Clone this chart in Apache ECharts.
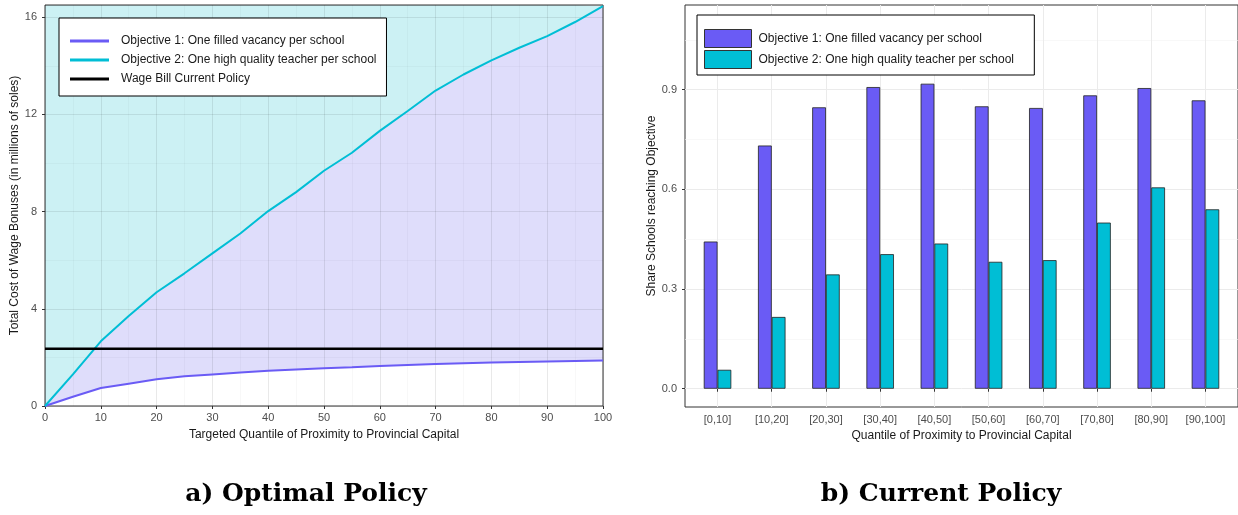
<!DOCTYPE html>
<html><head><meta charset="utf-8">
<script src="https://cdn.jsdelivr.net/npm/echarts@6/dist/echarts.min.js"></script>
<style>html,body{margin:0;padding:0;background:#fff}#c{width:1238px;height:515px}</style>
</head><body><div id="c"></div>
<script>
// ---- Panel a) Optimal Policy ----
const quantiles = [0,5,10,15,20,25,30,35,40,45,50,55,60,65,70,75,80,85,90,95,100];
const obj1Cost = [0,0.38,0.74,0.92,1.1,1.22,1.3,1.38,1.45,1.5,1.55,1.59,1.65,1.69,1.73,1.76,1.79,1.81,1.83,1.85,1.87];
const obj2Cost = [0,1.3,2.66,3.7,4.68,5.46,6.28,7.1,8.02,8.8,9.68,10.42,11.32,12.14,12.98,13.64,14.22,14.74,15.22,15.8,16.45];
const wageBill = 2.36;
const costMax = 16.5;

// ---- Panel b) Current Policy ----
const bins = ['[0,10]','[10,20]','[20,30]','[30,40]','[40,50]','[50,60]','[60,70]','[70,80]','[80,90]','[90,100]'];
const obj1Share = [0.443,0.732,0.847,0.908,0.918,0.850,0.845,0.883,0.905,0.868];
const obj2Share = [0.057,0.216,0.344,0.405,0.437,0.382,0.387,0.500,0.606,0.540];
const shareMajor = [0,0.3,0.6,0.9];
const shareMinor = [0.15,0.45,0.75,1.05];

const name1 = 'Objective 1: One filled vacancy per school';
const name2 = 'Objective 2: One high quality teacher per school';
const name3 = 'Wage Bill Current Policy';

const PURPLE = '#6A5BF5', CYAN = '#00BED5';
const SANS = '"Liberation Sans", Arial, sans-serif';
const tickLbl = {color:'#4D4D4D', fontSize:11, fontFamily:SANS};
const nameTs = {color:'#1A1A1A', fontSize:12, fontFamily:SANS};
const GRIDMAJ = 'rgba(0,0,0,0.085)', GRIDMIN = 'rgba(0,0,0,0.045)';

const chart = echarts.init(document.getElementById('c'), null, {renderer:'canvas'});
const pairs = arr => quantiles.map((q,i)=>[q, arr[i]]);
const binPos = bins.map((b,i)=>i+1);

chart.setOption({
  animation:false,
  backgroundColor:'#fff',
  grid:[
    {left:45, top:5, width:558, height:401, show:true, borderColor:'#333', borderWidth:1, z:1},
    {left:685, top:5, width:561, height:402, show:true, borderColor:'#333', borderWidth:1}
  ],
  xAxis:[
    {gridIndex:0, type:'value', min:0, max:100, interval:10, z:1,
     name:'Targeted Quantile of Proximity to Provincial Capital', nameLocation:'middle', nameGap:23, nameTextStyle:nameTs,
     axisLine:{show:false}, axisTick:{show:true, length:3, lineStyle:{color:'#333'}},
     axisLabel:Object.assign({margin:6}, tickLbl),
     splitLine:{show:true, lineStyle:{color:GRIDMAJ, width:1}},
     minorTick:{show:false, splitNumber:2}, minorSplitLine:{show:true, lineStyle:{color:GRIDMIN, width:0.7}}},
    {gridIndex:1, type:'value', min:0.4, max:10.6,
     name:'Quantile of Proximity to Provincial Capital', nameLocation:'middle', nameGap:23, nameTextStyle:nameTs,
     axisLine:{show:false},
     axisTick:{show:true, length:3, lineStyle:{color:'#333'}, customValues:binPos},
     axisLabel:Object.assign({margin:7, customValues:binPos, formatter:v=>bins[Math.round(v)-1]}, tickLbl),
     splitLine:{show:true, lineStyle:{color:'#EBEBEB', width:1}}}
  ],
  yAxis:[
    {gridIndex:0, type:'value', min:0, max:costMax, interval:4, z:1,
     name:'Total Cost of Wage Bonuses (in millions of soles)', nameLocation:'middle', nameGap:18, nameTextStyle:nameTs,
     axisLine:{show:false}, axisTick:{show:true, length:3, lineStyle:{color:'#333'}},
     axisLabel:Object.assign({margin:8, showMaxLabel:false}, tickLbl),
     splitLine:{show:true, lineStyle:{color:GRIDMAJ, width:1}},
     minorTick:{show:false, splitNumber:2}, minorSplitLine:{show:true, lineStyle:{color:GRIDMIN, width:0.7}}},
    {gridIndex:1, type:'value', min:-0.055, max:1.155,
     name:'Share Schools reaching Objective', nameLocation:'middle', nameGap:24, nameTextStyle:nameTs,
     axisLine:{show:false},
     axisTick:{show:true, length:3, lineStyle:{color:'#333'}, customValues:shareMajor},
     axisLabel:Object.assign({margin:8, customValues:shareMajor, formatter:v=>v.toFixed(1)}, tickLbl),
     splitLine:{show:true, lineStyle:{color:'#EBEBEB', width:1}}},
    {gridIndex:1, type:'value', min:-0.055, max:1.155, position:'left',
     axisLine:{show:false},
     axisTick:{show:false, customValues:shareMinor},
     axisLabel:{show:false, customValues:shareMinor},
     splitLine:{show:true, lineStyle:{color:'#F3F3F3', width:0.6}}}
  ],
  legend:[
    {left:59, top:18, orient:'vertical', selectedMode:false, z:5,
     data:[name1,name2,name3], icon:'rect', itemWidth:39, itemHeight:3, itemGap:7,
     padding:[17,10,11,11], borderColor:'#000', borderWidth:1, backgroundColor:'#fff',
     textStyle:{fontSize:12, color:'#1A1A1A', fontFamily:SANS, padding:[0,0,0,7]}},
    {left:697, top:15, orient:'vertical', selectedMode:false, z:5,
     data:[name1+' ', name2+' '], icon:'rect', itemWidth:47, itemHeight:18, itemGap:2,
     padding:[14,17,6,7], borderColor:'#000', borderWidth:1, backgroundColor:'#fff',
     itemStyle:{borderColor:'#333', borderWidth:1},
     textStyle:{fontSize:12, color:'#1A1A1A', fontFamily:SANS, padding:[0,0,0,2]}}
  ],
  series:[
    // region above objective-2 curve (to top of panel)
    {type:'line', xAxisIndex:0, yAxisIndex:0, data:pairs(obj2Cost), symbol:'none', silent:true,
     lineStyle:{width:0, opacity:0}, areaStyle:{color:'#CCF1F4', opacity:1, origin:'end'}, z:0},
    // region below objective-2 curve
    {type:'line', xAxisIndex:0, yAxisIndex:0, data:pairs(obj2Cost), symbol:'none', silent:true,
     lineStyle:{width:0, opacity:0}, areaStyle:{color:'#DFDDFB', opacity:1, origin:'start'}, z:0},
    // white region below objective-1 curve
    {type:'line', xAxisIndex:0, yAxisIndex:0, data:pairs(obj1Cost), symbol:'none', silent:true,
     lineStyle:{width:0, opacity:0}, areaStyle:{color:'#FFFFFF', opacity:1, origin:'start'}, z:0},
    {name:name1, type:'line', xAxisIndex:0, yAxisIndex:0, data:pairs(obj1Cost), symbol:'none',
     color:PURPLE, lineStyle:{color:PURPLE, width:2}, z:3},
    {name:name2, type:'line', xAxisIndex:0, yAxisIndex:0, data:pairs(obj2Cost), symbol:'none',
     color:CYAN, lineStyle:{color:CYAN, width:2}, z:3},
    {name:name3, type:'line', xAxisIndex:0, yAxisIndex:0, data:[[quantiles[0],wageBill],[quantiles[quantiles.length-1],wageBill]],
     symbol:'none', color:'#000', lineStyle:{color:'#000', width:2.5}, z:4},
    {name:name1+' ', type:'bar', xAxisIndex:1, yAxisIndex:1, data:bins.map((b,i)=>[i+1, obj1Share[i]]),
     barWidth:13.75, barGap:'0%', itemStyle:{color:PURPLE, borderColor:'#222', borderWidth:0.8}, z:3},
    {name:name2+' ', type:'bar', xAxisIndex:1, yAxisIndex:1, data:bins.map((b,i)=>[i+1, obj2Share[i]]),
     barWidth:13.75, barGap:'0%', itemStyle:{color:CYAN, borderColor:'#222', borderWidth:0.8}, z:3}
  ],
  graphic:[
    {type:'text', x:306, y:494, style:{text:'a) Optimal Policy', font:'bold 25px "DejaVu Serif", serif', fill:'#000',
      align:'center', verticalAlign:'middle', textAlign:'center', textVerticalAlign:'middle'}},
    {type:'text', x:941, y:494, style:{text:'b) Current Policy', font:'bold 25px "DejaVu Serif", serif', fill:'#000',
      align:'center', verticalAlign:'middle', textAlign:'center', textVerticalAlign:'middle'}}
  ]
});
</script></body></html>
